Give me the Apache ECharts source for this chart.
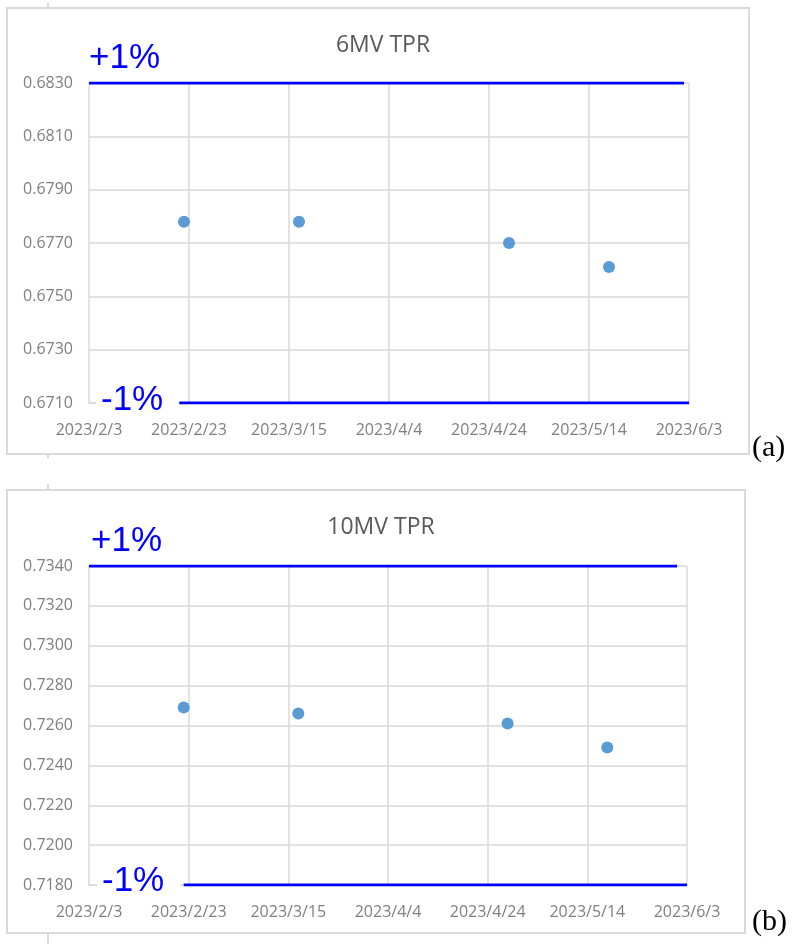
<!DOCTYPE html>
<html>
<head>
<meta charset="utf-8">
<script src="https://cdn.jsdelivr.net/npm/echarts@6/dist/echarts.min.js"></script>
<style>
  html, body { margin: 0; padding: 0; background: #ffffff; }
  #chart { width: 796px; height: 944px; }
</style>
</head>
<body>
<div id="chart"></div>
<script>
// Measurement dates and TPR readings
const measureDates = ['2023/2/22', '2023/3/17', '2023/4/28', '2023/5/18'];
const tpr6MV = [0.6778, 0.6778, 0.6770, 0.6761];
const tpr10MV = [0.7269, 0.7266, 0.7261, 0.7249];

// Date axis: first tick, last tick, step (days)
const dateStart = '2023/2/3';
const dateEnd = '2023/6/3';
const dateStepDays = 20;

// Value axes and tolerance limits (±1%)
const yRange6MV = [0.6710, 0.6830];
const yRange10MV = [0.7180, 0.7340];
const yStep = 0.0020;
const limits6MV = { upper: 0.6830, lower: 0.6710 };
const limits10MV = { upper: 0.7340, lower: 0.7180 };
// Drawn extents of the limit lines
const upperSpan6MV = ['2023/2/3', '2023/6/2'];
const lowerSpan6MV = ['2023/2/21', '2023/6/3'];
const upperSpan10MV = ['2023/2/3', '2023/6/1'];
const lowerSpan10MV = ['2023/2/22', '2023/6/3'];

const titles = ['6MV TPR', '10MV TPR'];
const panelTags = ['(a)', '(b)'];

function dayOf(s) {
  const p = s.split('/').map(Number);
  const b = dateStart.split('/').map(Number);
  return Math.round((Date.UTC(p[0], p[1] - 1, p[2]) - Date.UTC(b[0], b[1] - 1, b[2])) / 86400000);
}
function dateLabel(day) {
  const b = dateStart.split('/').map(Number);
  const d = new Date(Date.UTC(b[0], b[1] - 1, b[2]) + day * 86400000);
  return d.getUTCFullYear() + '/' + (d.getUTCMonth() + 1) + '/' + d.getUTCDate();
}

const labelColor = '#7f7f7f';
const gridColor = '#d9d9d9';
const limitColor = '#0000ff';
const dotColor = '#5b9bd5';
const font = 'Open Sans';

function xAxisFor(gridIndex) {
  return {
    type: 'value', gridIndex,
    min: 0, max: dayOf(dateEnd), interval: dateStepDays,
    axisLine: { show: true, lineStyle: { color: gridColor, width: 1 } },
    axisTick: { show: false },
    splitLine: { show: true, lineStyle: { color: gridColor, width: 1.5 } },
    axisLabel: {
      color: labelColor, fontFamily: font, fontSize: 16, margin: 19,
      formatter: v => dateLabel(v)
    }
  };
}
// Values are plotted as offsets from the axis minimum so ticks fall on every step
function yAxisFor(gridIndex, range) {
  return {
    type: 'value', gridIndex,
    min: 0, max: +(range[1] - range[0]).toFixed(6), interval: yStep,
    axisLine: { show: false },
    axisTick: { show: false },
    splitLine: { show: true, lineStyle: { color: gridColor, width: 1.5 } },
    axisLabel: {
      color: labelColor, fontFamily: font, fontSize: 16, margin: 16,
      formatter: v => (v + range[0]).toFixed(4)
    }
  };
}
function points(vals, range) {
  return measureDates.map((d, i) => [dayOf(d), vals[i] - range[0]]);
}
function limitLine(span, value, range, idx) {
  return {
    type: 'line', xAxisIndex: idx, yAxisIndex: idx,
    data: span.map(d => [dayOf(d), value - range[0]]),
    symbol: 'none', silent: true, z: 5,
    lineStyle: { color: limitColor, width: 3 }
  };
}

const chart = echarts.init(document.getElementById('chart'), null, { renderer: 'canvas' });

const bigText = (text, left, top, bg) => ({
  type: 'text', left, top, z: 100,
  style: {
    text, fill: limitColor, font: '35px "Liberation Sans", Arial, sans-serif',
    backgroundColor: bg ? '#ffffff' : null, padding: bg ? [0, 16, 0, 5] : 0
  }
});
const tagText = (text, left, top) => ({
  type: 'text', left, top, z: 100,
  style: { text, fill: '#000000', font: '30px "Liberation Serif", "Times New Roman", serif' }
});
const tick = (x, y1, y2) => ({
  type: 'line', z: 1,
  shape: { x1: x, y1, x2: x, y2 },
  style: { stroke: gridColor, lineWidth: 2 }
});

const scatterStyle = { color: dotColor, opacity: 1 };

chart.setOption({
  backgroundColor: '#ffffff',
  animation: false,
  title: [
    { text: titles[0], left: 378, top: 29, textAlign: 'center',
      textStyle: { color: '#595959', fontFamily: font, fontSize: 23, fontWeight: 'normal' } },
    { text: titles[1], left: 376, top: 511, textAlign: 'center',
      textStyle: { color: '#595959', fontFamily: font, fontSize: 23, fontWeight: 'normal' } }
  ],
  grid: [
    { left: 89, top: 83, width: 600, height: 320 },
    { left: 89, top: 566, width: 598, height: 319 }
  ],
  xAxis: [xAxisFor(0), xAxisFor(1)],
  yAxis: [yAxisFor(0, yRange6MV), yAxisFor(1, yRange10MV)],
  series: [
    {
      type: 'scatter', xAxisIndex: 0, yAxisIndex: 0, z: 10,
      data: points(tpr6MV, yRange6MV), symbolSize: 12,
      itemStyle: scatterStyle
    },
    {
      type: 'scatter', xAxisIndex: 1, yAxisIndex: 1, z: 10,
      data: points(tpr10MV, yRange10MV), symbolSize: 12,
      itemStyle: scatterStyle
    },
    limitLine(upperSpan6MV, limits6MV.upper, yRange6MV, 0),
    limitLine(lowerSpan6MV, limits6MV.lower, yRange6MV, 0),
    limitLine(upperSpan10MV, limits10MV.upper, yRange10MV, 1),
    limitLine(lowerSpan10MV, limits10MV.lower, yRange10MV, 1)
  ],
  graphic: [
    { type: 'rect', z: 0, shape: { x: 7, y: 8, width: 742, height: 446 },
      style: { fill: null, stroke: gridColor, lineWidth: 2 } },
    { type: 'rect', z: 0, shape: { x: 7, y: 490, width: 738, height: 443 },
      style: { fill: null, stroke: gridColor, lineWidth: 2 } },
    tick(48, 3, 8), tick(48, 454, 458), tick(48, 484, 490), tick(48, 933, 944),
    bigText('+1%', 89, 41, false),
    bigText('-1%', 96, 383, true),
    bigText('+1%', 91, 524, false),
    bigText('-1%', 97, 864, true),
    tagText(panelTags[0], 752, 433),
    tagText(panelTags[1], 752, 907)
  ]
});
</script>
</body>
</html>
